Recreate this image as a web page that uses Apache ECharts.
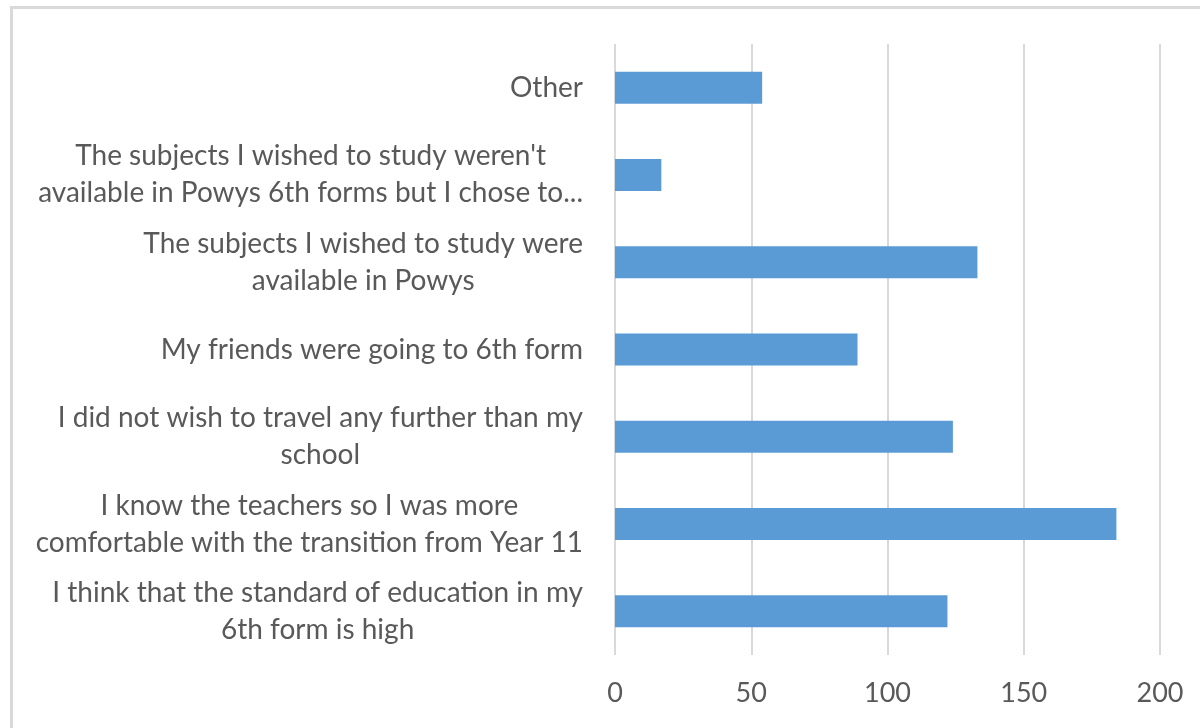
<!DOCTYPE html>
<html>
<head>
<meta charset="utf-8">
<script src="https://cdn.jsdelivr.net/npm/echarts@6/dist/echarts.min.js"></script>
<style>
  html, body { margin: 0; padding: 0; background: #fff; overflow: hidden; }
  #frame { position: absolute; left: 10px; top: 6px; width: 1400px; height: 900px; border: 3px solid #d9d9d9; }
  #chart { position: absolute; left: 0; top: 0; width: 1200px; height: 728px; }
</style>
</head>
<body>
<div id="frame"></div>
<div id="chart"></div>
<script>
// categories top to bottom, as shown
var reasons = [
  'Other',
  'The subjects I wished to study weren\'t\navailable in Powys 6th forms but I chose to...',
  'The subjects I wished to study were\navailable in Powys',
  'My friends were going to 6th form',
  'I did not wish to travel any further than my\nschool',
  'I know the teachers so I was more\ncomfortable with the transition from Year 11',
  'I think that the standard of education in my\n6th form is high'
]
var counts = [54, 17, 133, 89, 124, 184, 122]
var xTicks = [0, 50, 100, 150, 200]

var dom = echarts.init(document.getElementById('chart'))
var option = {
  animation: false,
  grid: {
    left: 615,
    right: 40,
    top: 44,
    bottom: 73
  },
  xAxis: {
    type: 'value',
    min: xTicks[0],
    max: xTicks[xTicks.length - 1],
    interval: xTicks[1] - xTicks[0],
    axisLine: { show: false },
    axisTick: { show: false },
    splitLine: { lineStyle: { color: '#d9d9d9', width: 2 } },
    axisLabel: {
      color: '#595959',
      fontFamily: 'Lato',
      fontSize: 27,
      margin: 25
    }
  },
  yAxis: {
    type: 'category',
    inverse: true,
    data: reasons,
    axisLine: { show: false },
    axisTick: { show: false },
    axisLabel: {
      margin: 32,
      formatter: function (v) {
        // center each line inside the right-aligned block
        return v.split('\n').map(function (l) { return '{c|' + l + '}' }).join('\n')
      },
      rich: {
        c: {
          align: 'center',
          color: '#595959',
          fontFamily: 'Lato',
          fontSize: 28,
          lineHeight: 37
        }
      }
    }
  },
  series: [
    {
      type: 'bar',
      data: counts,
      barWidth: 32,
      itemStyle: { color: '#5b9bd5' }
    }
  ]
}
dom.setOption(option)
</script>
</body>
</html>
